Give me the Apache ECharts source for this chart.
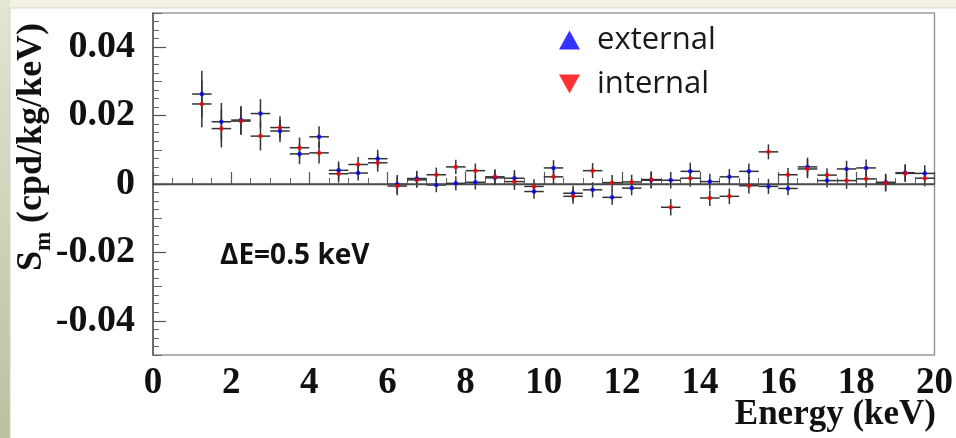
<!DOCTYPE html>
<html>
<head>
<meta charset="utf-8">
<script src="https://cdn.jsdelivr.net/npm/echarts@6/dist/echarts.min.js"></script>
<style>
html,body{margin:0;padding:0;background:#fff;}
#chart{width:956px;height:438px;}
</style>
</head>
<body>
<div id="chart"></div>
<script>
// Bin centres (keV), 0.5 keV bins
const energy = [1.25, 1.75, 2.25, 2.75, 3.25, 3.75, 4.25, 4.75, 5.25, 5.75,
  6.25, 6.75, 7.25, 7.75, 8.25, 8.75, 9.25, 9.75, 10.25, 10.75,
  11.25, 11.75, 12.25, 12.75, 13.25, 13.75, 14.25, 14.75, 15.25, 15.75,
  16.25, 16.75, 17.25, 17.75, 18.25, 18.75, 19.25, 19.75];
const binHalfWidth = 0.25;
// Sm (cpd/kg/keV)
const external = [0.0263, 0.0182, 0.0187, 0.0206, 0.0155, 0.0088, 0.0138, 0.0040, 0.0032, 0.0074,
  -0.0001, 0.0016, -0.0003, 0.0002, 0.0005, 0.0018, 0.0017, -0.0022, 0.0047, -0.0027,
  -0.0017, -0.0039, -0.0012, 0.0011, 0.0011, 0.0037, 0.0007, 0.0021, 0.0037, -0.0007,
  -0.0013, 0.0050, 0.0010, 0.0044, 0.0047, 0.0005, 0.0033, 0.0031];
const internal = [0.0234, 0.0162, 0.0184, 0.0140, 0.0165, 0.0106, 0.0091, 0.0030, 0.0057, 0.0062,
  -0.0006, 0.0012, 0.0027, 0.0050, 0.0039, 0.0021, 0.0007, -0.0007, 0.0021, -0.0036,
  0.0039, 0.0004, 0.0006, 0.0013, -0.0068, 0.0017, -0.0041, -0.0036, -0.0005, 0.0094,
  0.0027, 0.0044, 0.0026, 0.0010, 0.0015, 0.0003, 0.0031, 0.0017];
const errors = [0.0068, 0.0055, 0.0041, 0.0042, 0.0033, 0.0030, 0.0031, 0.0026, 0.0022, 0.0026,
  0.0027, 0.0023, 0.0021, 0.0021, 0.0021, 0.0022, 0.0024, 0.0021, 0.0023, 0.0022,
  0.0022, 0.0022, 0.0021, 0.0024, 0.0024, 0.0025, 0.0023, 0.0023, 0.0023, 0.0022,
  0.0020, 0.0027, 0.0020, 0.0024, 0.0025, 0.0025, 0.0025, 0.0024];
const yTickLabels = [-0.04, -0.02, 0, 0.02, 0.04];
const xTickLabels = [0, 2, 4, 6, 8, 10, 12, 14, 16, 18, 20];

const serifFont = "'Liberation Serif', 'Times New Roman', serif";
const sansFont = "'Open Sans', 'Noto Sans', sans-serif";

function toPoints(vals) {
  return energy.map((e, i) => [e, vals[i], errors[i]]);
}

function renderErr(params, api) {
  const x = api.value(0), y = api.value(1), e = api.value(2);
  const c = api.coord([x, y]);
  const l = api.coord([x - binHalfWidth, y]);
  const r = api.coord([x + binHalfWidth, y]);
  const t = api.coord([x, y + e]);
  const b = api.coord([x, y - e]);
  const st = {stroke: '#333333', lineWidth: 1.5};
  return {type: 'group', children: [
    {type: 'line', shape: {x1: l[0], y1: c[1], x2: r[0], y2: c[1]}, style: st},
    {type: 'line', shape: {x1: c[0], y1: t[1], x2: c[0], y2: b[1]}, style: st}
  ]};
}

const chart = echarts.init(document.getElementById('chart'), null, {renderer: 'canvas'});
const yBase = {
  type: 'value', min: -0.05, max: 0.05, position: 'left', gridIndex: 0,
  splitLine: {show: false}
};
chart.setOption({
  backgroundColor: '#ffffff',
  animation: false,
  graphic: [
    {type: 'rect', z: -10, shape: {x: 0, y: 0, width: 956, height: 8}, style: {fill: '#f3f1e6'}},
    {type: 'rect', z: -10, shape: {x: 0, y: 0, width: 10, height: 438},
      style: {fill: new echarts.graphic.LinearGradient(0, 0, 0, 1, [
        {offset: 0, color: '#e4e5d3'}, {offset: 1, color: '#bcc0a0'}])}},
    {type: 'line', z: -9, shape: {x1: 10, y1: 8, x2: 10, y2: 438}, style: {stroke: '#d0d0c8', lineWidth: 1}},
    {type: 'line', z: -9, shape: {x1: 10, y1: 8, x2: 956, y2: 8}, style: {stroke: '#d8d8d0', lineWidth: 1}},
    {type: 'text', x: 35, y: 147, rotation: Math.PI / 2,
      style: {
        text: '{s|S}{m|m}{t| (cpd/kg/keV)}',
        align: 'center', verticalAlign: 'middle',
        rich: {
          s: {fontFamily: serifFont, fontWeight: 'bold', fontSize: 36, lineHeight: 36, verticalAlign: 'top', fill: '#111'},
          t: {fontFamily: serifFont, fontWeight: 'bold', fontSize: 36, lineHeight: 36, verticalAlign: 'top', fill: '#111'},
          m: {fontFamily: serifFont, fontWeight: 'bold', fontSize: 23, lineHeight: 42, verticalAlign: 'bottom', fill: '#111'}
        }
      }},
    {type: 'text', x: 936, y: 415,
      style: {text: 'Energy (keV)', align: 'right', verticalAlign: 'middle',
        fontFamily: serifFont, fontWeight: 'bold', fontSize: 35, fill: '#111'}},
    {type: 'text', x: 220, y: 256,
      style: {text: 'ΔE=0.5 keV', align: 'left', verticalAlign: 'middle',
        fontFamily: sansFont, fontWeight: 'bold', fontSize: 28, fill: '#111'}}
  ],
  grid: {left: 153, right: 20, top: 13, bottom: 83, show: true, borderColor: '#9a9a9a', borderWidth: 1.5, backgroundColor: 'transparent'},
  legend: {
    orient: 'vertical', left: 554, top: 19,
    itemWidth: 21, itemHeight: 19, itemGap: 12,
    data: [
      {name: 'external', icon: 'triangle'},
      {name: 'internal', icon: 'path://M0,0 L10,0 L5,9 Z'}
    ],
    textStyle: {fontFamily: sansFont, fontSize: 31, color: '#1a1a1a', lineHeight: 32, padding: [0, 0, 0, 12]}
  },
  xAxis: {
    type: 'value', min: 0, max: 20, interval: 2,
    axisLine: {show: true, lineStyle: {color: '#555', width: 1.5}},
    axisTick: {show: true, inside: true, length: 12, lineStyle: {color: '#555', width: 1.2}},
    minorTick: {show: true, splitNumber: 4, length: 6, lineStyle: {color: '#666', width: 1}},
    splitLine: {show: false},
    axisLabel: {
      margin: 10, color: '#111', fontFamily: serifFont, fontWeight: 'bold', fontSize: 37,
      customValues: xTickLabels
    }
  },
  yAxis: [
    Object.assign({}, yBase, {
      interval: 0.0025,
      axisLine: {show: true, lineStyle: {color: '#555', width: 1.5}},
      axisTick: {show: true, inside: true, length: 6, lineStyle: {color: '#666', width: 1}},
      axisLabel: {show: false}
    }),
    Object.assign({}, yBase, {
      interval: 0.01,
      axisLine: {show: false},
      axisTick: {show: true, inside: true, length: 9, lineStyle: {color: '#666', width: 1}},
      axisLabel: {show: false}
    }),
    Object.assign({}, yBase, {
      axisLine: {show: false},
      axisTick: {show: true, inside: true, length: 13, lineStyle: {color: '#555', width: 1.2}, customValues: yTickLabels},
      axisLabel: {
        margin: 18, color: '#111', fontFamily: serifFont, fontWeight: 'bold', fontSize: 38,
        customValues: yTickLabels,
        formatter: v => (Math.abs(v) < 1e-9 ? '0' : String(+v.toFixed(2)))
      }
    })
  ],
  series: [
    {
      name: 'external-err', type: 'custom', renderItem: renderErr,
      data: toPoints(external), encode: {x: 0, y: 1}, z: 2, silent: true,
      markLine: {
        silent: true, symbol: 'none', label: {show: false},
        lineStyle: {color: '#4a4a4a', width: 1.4, type: 'solid'},
        data: [{yAxis: 0}]
      }
    },
    {
      name: 'internal-err', type: 'custom', renderItem: renderErr,
      data: toPoints(internal), encode: {x: 0, y: 1}, z: 2, silent: true
    },
    {
      name: 'external', type: 'scatter', symbol: 'circle', symbolSize: 4.5,
      itemStyle: {color: '#0000ff'}, z: 5,
      data: energy.map((e, i) => [e, external[i]])
    },
    {
      name: 'internal', type: 'scatter', symbol: 'circle', symbolSize: 4.5,
      itemStyle: {color: '#ff0000'}, z: 5,
      data: energy.map((e, i) => [e, internal[i]])
    }
  ]
});
</script>
</body>
</html>
